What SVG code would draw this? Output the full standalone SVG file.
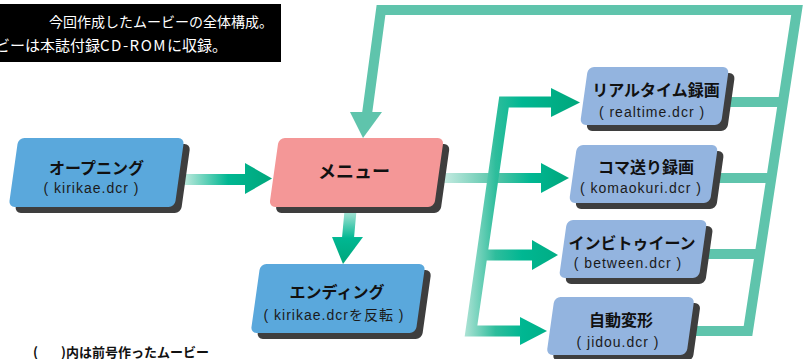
<svg xmlns="http://www.w3.org/2000/svg" width="807" height="359" viewBox="0 0 807 359">
<style>
.shadow{fill:#3e3e3e}
.blue{fill:#5aa8dc}
.lblue{fill:#93b4df}
.pink{fill:#f49797}
.title{font-family:"Noto Sans CJK JP",sans-serif;font-weight:700;font-size:16px;fill:#111;text-anchor:middle}
.sub{font-family:"Liberation Sans","Noto Sans CJK JP",sans-serif;font-size:14px;letter-spacing:1px;fill:#1a1a1a;text-anchor:middle}
.ret{fill:none;stroke:#5fc4ac;stroke-width:10;stroke-linejoin:miter}
.head{fill:#5fc4ac}
.cap{font-family:"Noto Sans CJK JP",sans-serif;font-size:15px;fill:#fff}
.note{font-family:"Noto Sans CJK JP",sans-serif;font-weight:700;font-size:13px;fill:#111}
</style>
<defs>
<linearGradient id="gOpen" gradientUnits="userSpaceOnUse" x1="184" y1="0" x2="272" y2="0">
<stop offset="0" stop-color="#bfe9dd"/><stop offset="0.5" stop-color="#00b792"/><stop offset="1" stop-color="#00a67b"/>
</linearGradient>
<linearGradient id="gDown" gradientUnits="userSpaceOnUse" x1="0" y1="207" x2="0" y2="264">
<stop offset="0" stop-color="#c6ebe1"/><stop offset="0.55" stop-color="#00b792"/><stop offset="1" stop-color="#00a67b"/>
</linearGradient>
<linearGradient id="gMenu" gradientUnits="userSpaceOnUse" x1="440" y1="0" x2="570" y2="0">
<stop offset="0" stop-color="#cdede5"/><stop offset="0.45" stop-color="#4fc3a6"/><stop offset="0.7" stop-color="#00b792"/><stop offset="1" stop-color="#00a67b"/>
</linearGradient>
<linearGradient id="gFork" gradientUnits="userSpaceOnUse" x1="462" y1="0" x2="582" y2="0">
<stop offset="0" stop-color="#b9e6da"/><stop offset="0.28" stop-color="#2ebd9c"/><stop offset="0.5" stop-color="#00b792"/><stop offset="1" stop-color="#00a67b"/>
</linearGradient>
</defs>
<rect width="807" height="359" fill="#fff"/>

<g id="caption">
<rect x="0" y="4" width="281" height="58" fill="#000"/>
<text class="cap" x="273" y="27" text-anchor="end" style="font-size:14px">今回作成したムービーの全体構成。</text>
<text class="cap" x="-5" y="51">ビーは本誌付録<tspan letter-spacing="1.5">CD-ROM</tspan>に収録。</text>
</g>

<g id="connectors">
<g id="return-lines">
<path class="ret" d="M 680,331 H 748 L 797,10 H 381 L 367,114"/>
<path class="ret" d="M 715,102 H 783"/>
<path class="ret" d="M 705,178 H 771"/>
<path class="ret" d="M 693,254 H 760"/>
<polygon class="head" points="350,112 382,112 363,138"/>
</g>
<g id="arrow-open-menu" fill="url(#gOpen)">
<rect x="180" y="174" width="67" height="11"/>
<polygon points="245,163 272,178.5 245,194"/>
</g>
<g id="arrow-menu-ending" fill="url(#gDown)">
<polygon points="345,205 357,205 354,238 342,238"/>
<polygon points="332,237 363,237 343,264"/>
</g>
<g id="arrow-menu-right" fill="url(#gMenu)">
<rect x="436" y="173" width="108" height="10"/>
<polygon points="541,163 569,178 541,193"/>
</g>
<g id="fork">
<path d="M 553,102 H 504 L 471,331 H 522 M 482,255 H 534" fill="none" stroke="url(#gFork)" stroke-width="11" stroke-linejoin="miter"/>
<polygon points="551,88 580,102.5 551,117" fill="url(#gFork)"/>
<polygon points="532,240 558,255 532,270" fill="url(#gFork)"/>
<polygon points="520,317 547,331 520,345" fill="url(#gFork)"/>
</g>
</g>

<g id="opening">
<g transform="translate(96.5,172.5) skewX(-8)">
<rect class="shadow" x="-76" y="-28.5" width="166" height="69" rx="6"/>
<rect class="blue" x="-83" y="-34.5" width="166" height="69" rx="6"/>
</g>
<text class="title" x="96.5" y="174">オープニング</text>
<text class="sub" x="91.5" y="193">( kirikae.dcr )</text>
</g>

<g id="menu">
<g transform="translate(356.5,172.5) skewX(-8)">
<rect class="shadow" x="-75.5" y="-28.5" width="165" height="69" rx="6"/>
<rect class="pink" x="-82.5" y="-34.5" width="165" height="69" rx="6"/>
</g>
<text class="title" x="354" y="178" style="font-size:18px">メニュー</text>
</g>

<g id="ending">
<g transform="translate(338,298.5) skewX(-8)">
<rect class="shadow" x="-75.5" y="-28.5" width="165" height="69" rx="6"/>
<rect class="blue" x="-82.5" y="-34.5" width="165" height="69" rx="6"/>
</g>
<text class="title" x="337" y="298">エンディング</text>
<text class="sub" x="334" y="320">( kirikae.dcrを反転 )</text>
</g>

<g id="realtime">
<g transform="translate(654.5,96) skewX(-8)">
<rect class="shadow" x="-63.5" y="-23" width="141" height="58" rx="6"/>
<rect class="lblue" x="-70.5" y="-29" width="141" height="58" rx="6"/>
</g>
<text class="title" x="656" y="96">リアルタイム録画</text>
<text class="sub" x="652" y="117">( realtime.dcr )</text>
</g>

<g id="komaokuri">
<g transform="translate(643.5,174) skewX(-8)">
<rect class="shadow" x="-63.5" y="-23" width="141" height="58" rx="6"/>
<rect class="lblue" x="-70.5" y="-29" width="141" height="58" rx="6"/>
</g>
<text class="title" x="646" y="173">コマ送り録画</text>
<text class="sub" x="641" y="193">( komaokuri.dcr )</text>
</g>

<g id="between">
<g transform="translate(633,249) skewX(-8)">
<rect class="shadow" x="-63" y="-23" width="140" height="58" rx="6"/>
<rect class="lblue" x="-70" y="-29" width="140" height="58" rx="6"/>
</g>
<text class="title" x="632" y="249">インビトゥイーン</text>
<text class="sub" x="628" y="268">( between.dcr )</text>
</g>

<g id="jidou">
<g transform="translate(620.5,326) skewX(-8)">
<rect class="shadow" x="-63" y="-23" width="140" height="58" rx="6"/>
<rect class="lblue" x="-70" y="-29" width="140" height="58" rx="6"/>
</g>
<text class="title" x="621" y="326">自動変形</text>
<text class="sub" x="618" y="347">( jidou.dcr )</text>
</g>

<g id="note">
<text class="note" x="33" y="357">(</text>
<text class="note" x="61" y="357">)内は前号作ったムービー</text>
</g>
</svg>
